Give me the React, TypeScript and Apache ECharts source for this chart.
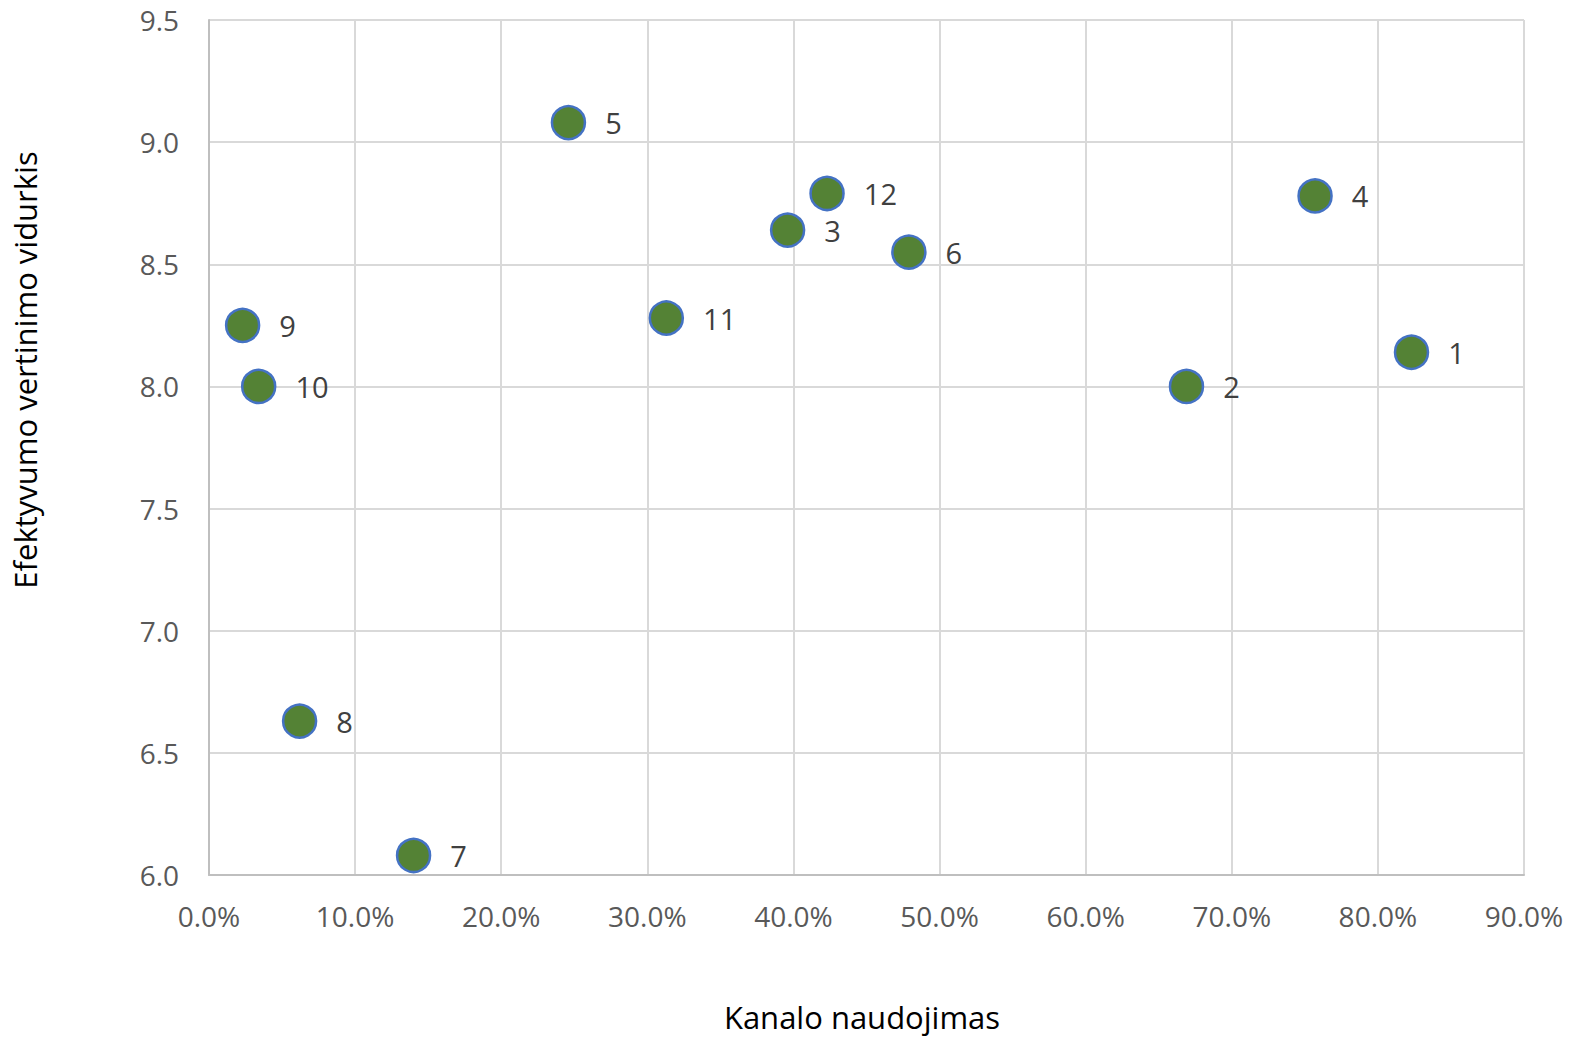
import React, { useEffect, useRef } from "react";
import * as echarts from "echarts";

const pointLabels = ["1", "2", "3", "4", "5", "6", "7", "8", "9", "10", "11", "12"];
const usage = [0.823, 0.669, 0.396, 0.757, 0.246, 0.479, 0.14, 0.062, 0.023, 0.034, 0.313, 0.423];
const rating = [8.14, 8.0, 8.64, 8.78, 9.08, 8.55, 6.08, 6.63, 8.25, 8.0, 8.28, 8.79];
const xTitle = "Kanalo naudojimas";
const yTitle = "Efektyvumo vertinimo vidurkis";

export default function App() {
  const ref = useRef<HTMLDivElement>(null);
  useEffect(() => {
    const chart = echarts.init(ref.current!, null, { renderer: "svg" });
    const font = "'Open Sans', 'Noto Sans', sans-serif";
    chart.setOption({
      animation: false,
      backgroundColor: "#ffffff",
      grid: { left: 209, right: 69, top: 20, bottom: 177 },
      xAxis: {
        type: "value",
        min: 0,
        max: 0.9,
        interval: 0.1,
        axisLine: { show: true, lineStyle: { color: "#bfbfbf", width: 2 } },
        axisTick: { show: false },
        splitLine: { show: true, lineStyle: { color: "#d9d9d9", width: 2 } },
        axisLabel: {
          margin: 27,
          color: "#595959",
          fontSize: 28,
          fontFamily: font,
          formatter: (v: number) => (v * 100).toFixed(1) + "%",
        },
      },
      yAxis: {
        type: "value",
        min: 6,
        max: 9.5,
        interval: 0.5,
        axisLine: { show: true, lineStyle: { color: "#bfbfbf", width: 2 } },
        axisTick: { show: false },
        splitLine: { show: true, lineStyle: { color: "#d9d9d9", width: 2 } },
        axisLabel: {
          margin: 30,
          color: "#595959",
          fontSize: 28,
          fontFamily: font,
          formatter: (v: number) => v.toFixed(1),
        },
      },
      graphic: [
        {
          type: "text",
          x: 862,
          y: 1017,
          style: {
            text: xTitle,
            fill: "#000000",
            fontSize: 31,
            fontFamily: font,
            align: "center",
            verticalAlign: "middle",
          },
        },
        {
          type: "text",
          x: 25,
          y: 370,
          rotation: Math.PI / 2,
          style: {
            text: yTitle,
            fill: "#000000",
            fontSize: 31,
            fontFamily: font,
            align: "center",
            verticalAlign: "middle",
          },
        },
      ],
      series: [
        {
          type: "scatter",
          symbol: "circle",
          symbolSize: 33,
          data: usage.map((u, i) => ({ value: [u, rating[i]], name: pointLabels[i] })),
          itemStyle: { color: "#548235", borderColor: "#4472c4", borderWidth: 2.5, opacity: 1 },
          label: {
            show: true,
            position: "right",
            distance: 19,
            formatter: (p: any) => p.name,
            color: "#404040",
            fontSize: 29,
            fontFamily: font,
          },
        },
      ],
    });
    return () => chart.dispose();
  }, []);
  return (
    <div
      ref={ref}
      style={{ position: "absolute", left: 0, top: 0, width: 1593, height: 1052 }}
    />
  );
}
